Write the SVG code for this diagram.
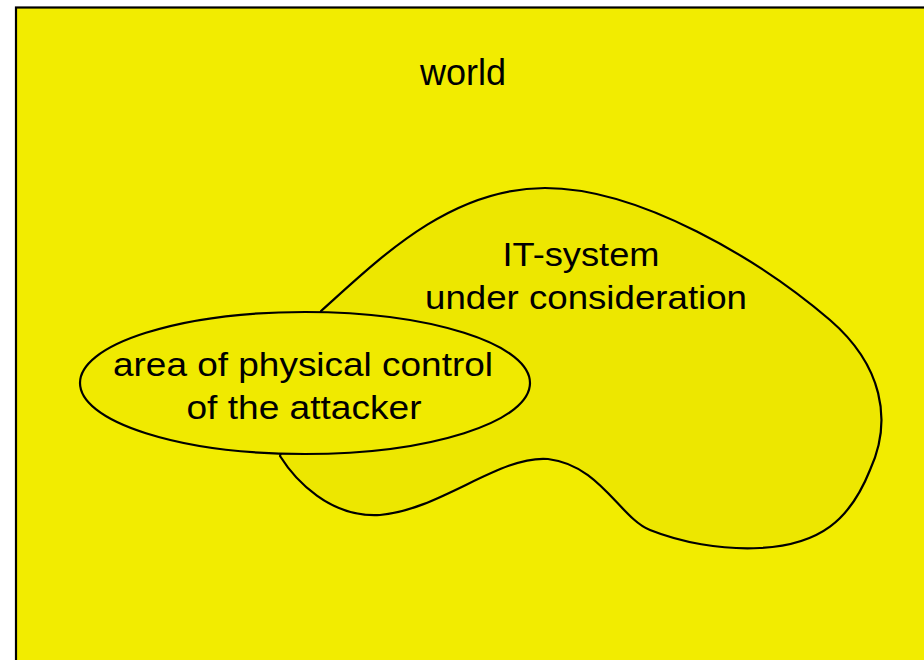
<svg xmlns="http://www.w3.org/2000/svg" width="924" height="660" viewBox="0 0 924 660">
<style>
.lbl{font-family:"Liberation Sans",Arial,sans-serif;fill:#000;text-anchor:middle}
.shape{stroke:#000;stroke-width:2.2}
</style>
<rect width="924" height="660" fill="#fff"/>
<g id="world">
<rect class="shape" x="16" y="7.5" width="1000" height="700" fill="#F2EC00" stroke-width="2.5"/>
<text class="lbl" x="463" y="85" font-size="36">world</text>
</g>
<g id="it-system">
<path class="shape" fill="#EDE700" d="M 321 311 C 380 258, 450 188, 545 188 C 640 188, 760 260, 830 320 C 882 365, 893 420, 870 470 C 850 520, 820 545, 760 548 C 720 550, 680 542, 650 530 C 620 518, 600 465, 548 459 C 500 455, 440 510, 380 515 C 330 518, 295 480, 280 456 Z"/>
<text class="lbl" x="581" y="266" font-size="33" textLength="157" lengthAdjust="spacingAndGlyphs">IT-system</text>
<text class="lbl" x="586" y="309" font-size="34" textLength="322" lengthAdjust="spacingAndGlyphs">under consideration</text>
</g>
<g id="attacker-area">
<ellipse class="shape" cx="305" cy="383" rx="225" ry="71" fill="#F0EA00"/>
<text class="lbl" x="303" y="376" font-size="33" textLength="380" lengthAdjust="spacingAndGlyphs">area of physical control</text>
<text class="lbl" x="304" y="419" font-size="33" textLength="235" lengthAdjust="spacingAndGlyphs">of the attacker</text>
</g>
<g id="connectors"/>
</svg>
